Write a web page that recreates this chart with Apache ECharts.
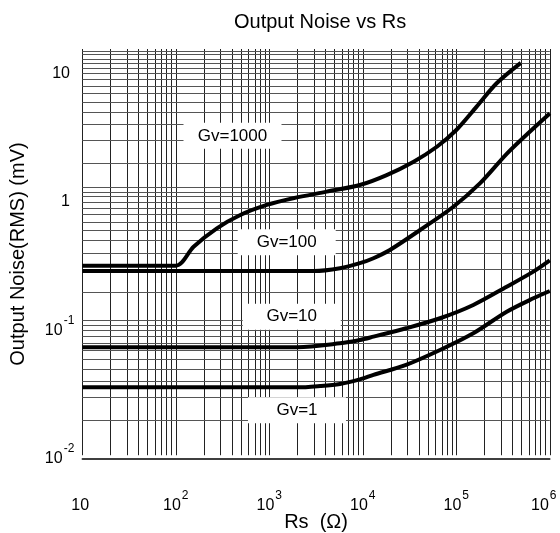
<!DOCTYPE html>
<html><head><meta charset="utf-8">
<script src="https://cdn.jsdelivr.net/npm/echarts@6/dist/echarts.min.js"></script>
<style>html,body{margin:0;padding:0;background:#fff}#c{width:560px;height:533px}</style>
</head><body><div id="c"></div>
<script>
const FONT = '"Liberation Sans", Arial, Helvetica, sans-serif';

// Rs (ohm) and output noise (mV RMS)
const rsGv1000    = [10, 100, 155, 275, 490, 940, 1800, 4100, 9300, 18000, 35000, 62000, 100000, 165000, 270000, 490000];
const noiseGv1000 = [0.319, 0.319, 0.449, 0.624, 0.792, 0.948, 1.069, 1.203, 1.356, 1.62, 2.06, 2.69, 3.63, 5.52, 8.39, 12.1];

const rsGv100     = [10, 3000, 5700, 9300, 13000, 19500, 41000, 93000, 180000, 350000, 670000, 1000000];
const noiseGv100  = [0.29, 0.29, 0.305, 0.334, 0.365, 0.423, 0.605, 0.918, 1.40, 2.39, 3.75, 4.89];

const rsGv10      = [10, 2000, 5700, 9300, 13000, 29000, 67000, 152000, 346000, 667000, 1000000];
const noiseGv10   = [0.074, 0.074, 0.0794, 0.0843, 0.0895, 0.104, 0.1245, 0.158, 0.219, 0.287, 0.351];

const rsGv1       = [10, 2000, 3500, 5700, 9300, 13000, 29000, 67000, 152000, 346000, 667000, 1000000];
const noiseGv1    = [0.0361, 0.0361, 0.0370, 0.0384, 0.0416, 0.0451, 0.054, 0.0705, 0.0951, 0.140, 0.178, 0.203];

// curve labels
const gvNames   = ['Gv=1000', 'Gv=100', 'Gv=10', 'Gv=1'];
const gvLabelRs = [404, 1535, 1738, 1977];
const gvLabelNz = [3.27, 0.486, 0.128, 0.024];

// axis ranges / grid values
const xMin = 10, xMax = 1000000;
const yMin = 0.01, yMax = 15.5;
const xDecades = [10, 100, 1000, 10000, 100000];
const yDecades = [0.01, 0.1, 1, 10];
const yExtraGrid = [0.11, 0.12, 1.1, 1.2, 1.3, 11, 12, 13, 14, 15];
const vGridLow = 0.0107;

const xGrid = [];
xDecades.forEach(d => { for (let k = 1; k <= 9; k++) xGrid.push(d * k); });
xGrid.push(xMax);
const yGrid = [];
yDecades.forEach(d => { for (let k = (d === 0.01 ? 2 : 1); k <= 9; k++) { const v = +(d * k).toPrecision(6); if (v <= yMax) yGrid.push(v); } });
yExtraGrid.forEach(v => yGrid.push(v));

const gridLines = [];
xGrid.forEach(v => gridLines.push([{coord: [v, vGridLow]}, {coord: [v, yMax]}]));
yGrid.forEach(v => gridLines.push([{coord: [xMin, v], lineStyle: {color: '#555'}}, {coord: [xMax, v]}]));

function zip(a, b) { return a.map((v, i) => [v, b[i]]); }

function powLabel(v) {
  const e = Math.round(Math.log10(v));
  if (Math.abs(v / Math.pow(10, e) - 1) > 1e-6) return '';
  if (e === 0) return '{b|1}{s| }';
  if (e === 1) return '{b|10}{s| }';
  if (e === 6) return '{b|10}{e|' + e + '}';
  return '{b|10}{s|' + e + '}';
}
const rich = {
  b: {fontSize: 16, fontFamily: FONT, color: '#000'},
  s: {fontSize: 12, fontFamily: FONT, color: '#000', padding: [0, 0, 20, 1]},
  e: {fontSize: 12, fontFamily: FONT, color: '#000', padding: [0, 12, 20, 1]}
};

const curveStyle = {color: '#000', width: 4};
function curve(name, xs, ys) {
  return {
    name, type: 'line', data: zip(xs, ys), symbol: 'none', showSymbol: false,
    smooth: 0.3, lineStyle: curveStyle, itemStyle: {color: '#000'}, z: 5
  };
}

const chart = echarts.init(document.getElementById('c'), null, {renderer: 'canvas'});
chart.setOption({
  animation: false,
  backgroundColor: '#fff',
  title: {
    text: 'Output Noise vs Rs', left: 229, top: 7,
    textStyle: {fontFamily: FONT, fontSize: 20, fontWeight: 'normal', color: '#000'}
  },
  grid: {left: 82.3, right: 10.2, top: 49, bottom: 74, containLabel: false, outerBoundsMode: 'none'},
  xAxis: {
    type: 'log', logBase: 10, min: xMin, max: xMax,
    name: 'Rs  (Ω)', nameLocation: 'middle', nameGap: 53, nameMoveOverlap: false,
    nameTextStyle: {fontFamily: FONT, fontSize: 20, color: '#000'},
    axisLine: {show: true, onZero: false, lineStyle: {color: '#000', width: 1.5}},
    axisTick: {show: false}, splitLine: {show: false}, minorTick: {show: false},
    axisLabel: {formatter: powLabel, rich, margin: 31, color: '#000'}
  },
  yAxis: {
    type: 'log', logBase: 10, min: yMin, max: yMax,
    name: 'Output Noise(RMS) (mV)', nameLocation: 'middle', nameGap: 54, nameMoveOverlap: false,
    nameTextStyle: {fontFamily: FONT, fontSize: 20, color: '#000'},
    axisLine: {show: false}, axisTick: {show: false}, splitLine: {show: false},
    axisLabel: {formatter: powLabel, rich, margin: 8, color: '#000'}
  },
  series: [
    {
      name: 'grid', type: 'line', data: [[xMin, yMin]], symbol: 'none', silent: true,
      lineStyle: {opacity: 0}, z: 1,
      markLine: {silent: true, symbol: ['none', 'none'], animation: false,
        label: {show: false}, lineStyle: {color: '#222', width: 1, type: 'solid'}, data: gridLines}
    },
    {
      name: 'labels', type: 'line', data: [[xMin, yMin]], symbol: 'none', silent: true,
      lineStyle: {opacity: 0}, z: 3,
      markPoint: {silent: true, animation: false, symbol: 'rect', symbolSize: [98, 26],
        itemStyle: {color: '#fff'},
        label: {show: true, position: 'inside', color: '#000', fontFamily: FONT, fontSize: 17,
          formatter: p => p.name},
        data: gvNames.map((n, i) => ({name: n, coord: [gvLabelRs[i], gvLabelNz[i]]}))}
    },
    curve('Gv=1000', rsGv1000, noiseGv1000),
    curve('Gv=100', rsGv100, noiseGv100),
    curve('Gv=10', rsGv10, noiseGv10),
    curve('Gv=1', rsGv1, noiseGv1)
  ]
});
</script>
</body></html>
